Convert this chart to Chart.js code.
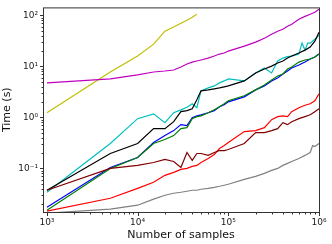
<!DOCTYPE html>
<html><head><meta charset="utf-8">
<script src="https://cdn.jsdelivr.net/npm/chart.js@4/dist/chart.umd.min.js"></script>
<style>html,body{margin:0;padding:0;background:#fff;}canvas{display:block;}</style>
</head><body>
<canvas id="c" width="332" height="244"></canvas>
<script>
// Number of samples (x)
const samples = [1000, 5000, 10000, 15000, 20000, 25000, 30000, 35000, 40000, 45000, 50000,
  60000, 70000, 80000, 90000, 100000, 150000, 200000, 250000, 300000, 350000, 400000,
  450000, 500000, 600000, 650000, 700000, 750000, 800000, 850000, 900000, 1000000];

// Time (s) per method
const timeYellow = [1.23, 7.74, 15.9, 27.2, 48.8, 58.9, 69.8, 80, 91.4, 104.7, null,
  null, null, null, null, null, null, null, null, null, null, null,
  null, null, null, null, null, null, null, null, null, null];
const timeMagenta = [4.73, 5.66, 6.77, 7.74, 8.09, 8.47, 9.7, 11.1, 12.1, 12.7, 13.3,
  14.5, 15.9, 17.4, 18.2, 19.9, 24.9, 29.8, 35.6, 42.6, 48.8, 53.4,
  61, 66.8, 83.6, null, 95.5, null, 104.7, null, 114.5, 131];
const timeCyan = [0.0339, 0.306, 0.94, 1.17, 0.785, 1.23, 1.40, 1.58, 1.84, 1.54, 3.30,
  3.77, 4.13, 4.73, 5.17, 5.66, 5.17, 7.4, 9.27, 7.4, 12.7, 14.5,
  15.5, 15.9, 17.4, 28.5, 20.8, 28.5, 28.5, null, 34.0, 40.7];
const timeBlack = [0.0371, 0.195, 0.306, 0.600, 0.600, 0.82, 1.29, 1.35, 1.47, 2.2, 3.30,
  3.45, 3.61, 3.77, 3.95, 4.13, 5.17, 7.4, 8.85, 10.1, 11.6, 12.7,
  14.5, 15.9, 18.2, null, 20.8, null, 23.8, null, 31.1, 46.6];
const timeBlue = [0.0173, 0.104, 0.163, 0.320, 0.44, 0.548, 0.718, 0.686, 0.98, 1.07, 1.12,
  1.23, 1.35, 1.61, 1.76, 2.01, 2.52, 3.45, 4.13, 5.17, 5.92, 7.08,
  8.09, 9.27, 10.6, null, 12.2, null, 13.9, null, 15.2, 17.4];
const timeGreen = [0.0151, 0.0995, 0.163, 0.306, 0.366, 0.438, 0.600, 0.627, 0.94, 1.03, 1.07,
  1.23, 1.41, 1.61, 1.84, 2.11, 2.64, 3.45, 4.32, 5.41, 6.47, 7.08,
  8.85, 9.7, 12.1, null, 13.3, null, 13.9, null, 15.2, 17.4];
const timeRed = [0.0145, 0.0259, 0.0405, 0.0531, 0.0727, 0.0832, 0.0953, 0.0995, 0.109, 0.114, 0.130,
  0.156, 0.187, 0.244, 0.279, 0.320, 0.524, 0.548, 0.627, 0.898, 1.03, 1.07,
  1.03, 1.29, 1.54, null, 1.72, null, 1.84, null, 2.11, 2.88];
const timeMaroon = [0.0371, 0.0995, 0.114, 0.130, 0.149, 0.136, 0.104, 0.204, 0.143, 0.195, 0.195,
  0.179, 0.204, 0.223, 0.223, 0.234, 0.306, 0.501, 0.501, 0.548, 0.600, 0.785,
  0.718, 0.821, 0.94, null, 1.03, null, 1.12, null, 1.29, 1.47];
const timeGray = [0.0132, 0.0158, 0.0189, 0.0248, 0.0296, 0.0324, 0.0339, 0.0355, 0.0371, 0.0371, 0.0388,
  0.0405, 0.0424, 0.0444, 0.0465, 0.0486, 0.0608, 0.0695, 0.0794, 0.0910, 0.0995, 0.114,
  0.125, 0.136, 0.156, null, 0.179, null, 0.204, 0.279, 0.267, 0.306];

// Tick labels
const xTickValues = [1e3, 1e4, 1e5, 1e6];
const xTickLabels = ['10\u00B3', '10\u2074', '10\u2075', '10\u2076'];
const yTickValues = [0.1, 1, 10, 100];
const yTickLabels = ['10\u207B\u00B9', '10\u2070', '10\u00B9', '10\u00B2'];

const series = [
  {data: timeYellow, color: '#bfbf00'},
  {data: timeMagenta, color: '#bf00bf'},
  {data: timeCyan, color: '#00bfbf'},
  {data: timeBlack, color: '#000000'},
  {data: timeBlue, color: '#0000ff'},
  {data: timeGreen, color: '#008000'},
  {data: timeRed, color: '#ff0000'},
  {data: timeMaroon, color: '#800000'},
  {data: timeGray, color: '#808080'}
];

const datasets = series.map((s, i) => ({
  data: samples.map((n, j) => ({x: n, y: s.data[j]})),
  borderColor: s.color,
  backgroundColor: s.color,
  borderWidth: 1.2,
  pointRadius: 0,
  fill: false,
  tension: 0,
  spanGaps: true,
  order: series.length - i
}));

const frameAndTicks = {
  id: 'frameAndTicks',
  afterDraw(chart) {
    const {ctx, chartArea: a, scales: {x, y}} = chart;
    ctx.save();
    ctx.strokeStyle = '#333';
    ctx.lineWidth = 1;
    ctx.strokeRect(a.left + 0.5, a.top + 0.5, a.right - a.left, a.bottom - a.top);
    ctx.beginPath();
    for (let d = 2; d <= 6; d++) {
      for (let k = 1; k <= 9; k++) {
        const v = k * Math.pow(10, d);
        if (v < x.min || v > x.max * 1.0001) continue;
        const px = Math.round(x.getPixelForValue(v)) + 0.5;
        const len = k === 1 ? 3.5 : 2;
        ctx.moveTo(px, a.bottom + 0.5);
        ctx.lineTo(px, a.bottom + 0.5 + len);
      }
    }
    for (let d = -2; d <= 2; d++) {
      for (let k = 1; k <= 9; k++) {
        const v = k * Math.pow(10, d);
        if (v < y.min || v > y.max) continue;
        const py = Math.round(y.getPixelForValue(v)) + 0.5;
        const len = k === 1 ? 3.5 : 2;
        ctx.moveTo(a.left + 0.5, py);
        ctx.lineTo(a.left + 0.5 - len, py);
      }
    }
    ctx.stroke();
    ctx.restore();
  }
};

const tickFont = {family: 'DejaVu Sans', size: 9};
const titleFont = {family: 'DejaVu Sans', size: 11};

new Chart(document.getElementById('c'), {
  type: 'line',
  data: {datasets},
  options: {
    responsive: false,
    animation: false,
    devicePixelRatio: 1,
    layout: {padding: {top: 6, right: 13, left: 0, bottom: 0}},
    plugins: {legend: {display: false}, tooltip: {enabled: false}},
    scales: {
      x: {
        type: 'logarithmic', min: 905, max: 1e6,
        afterBuildTicks: s => { s.ticks = xTickValues.map(v => ({value: v})); },
        afterFit: s => { s.height = 32; },
        grid: {display: false, drawTicks: true, tickLength: 3},
        border: {display: false},
        ticks: {autoSkip: false, maxRotation: 0, padding: 2, color: '#222', font: tickFont,
          callback: v => xTickLabels[xTickValues.indexOf(v)] || ''},
        title: {display: true, text: 'Number of samples', color: '#111', font: titleFont,
          padding: {top: 0, bottom: 2}}
      },
      y: {
        type: 'logarithmic', min: 0.0139, max: 143,
        afterBuildTicks: s => { s.ticks = yTickValues.map(v => ({value: v})); },
        afterFit: s => { s.width = 43; },
        grid: {display: false, drawTicks: true, tickLength: 3},
        border: {display: false},
        ticks: {autoSkip: false, padding: 2, color: '#222', font: tickFont,
          callback: v => yTickLabels[yTickValues.findIndex(t => Math.abs(t - v) / t < 1e-6)] || ''},
        title: {display: true, text: 'Time (s)', color: '#111', font: titleFont,
          padding: {top: 1, bottom: 0}}
      }
    }
  },
  plugins: [frameAndTicks]
});
</script>
</body></html>
